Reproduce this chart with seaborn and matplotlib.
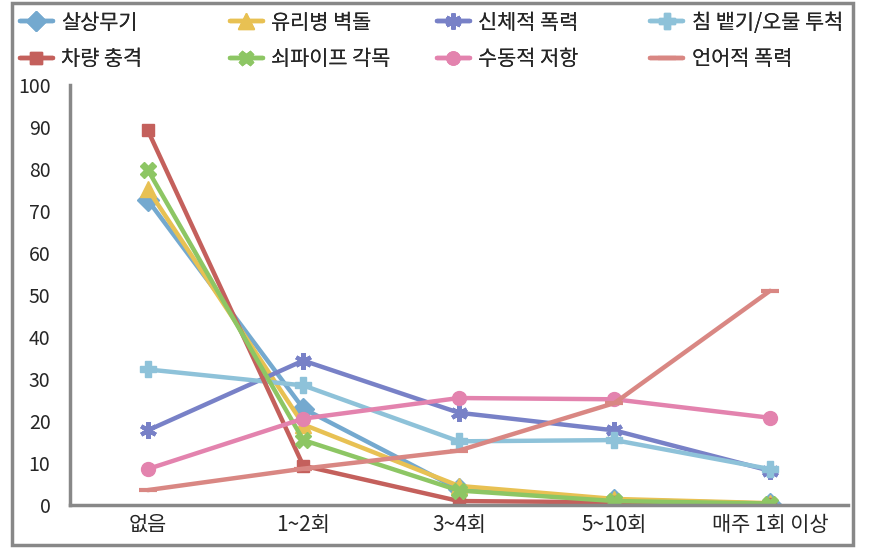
import pandas as pd
import seaborn as sns
import matplotlib.pyplot as plt
from matplotlib.patches import Rectangle

# 데이터
categories = ['없음', '1~2회', '3~4회', '5~10회', '매주 1회 이상']
series_names = ['살상무기', '유리병 벽돌', '신체적 폭력', '침 뱉기/오물 투척',
                '차량 충격', '쇠파이프 각목', '수동적 저항', '언어적 폭력']
weapon = [72.6, 23.0, 3.8, 1.3, 0.4]
bottle = [75.2, 19.2, 4.6, 1.5, 0.5]
physical = [17.8, 34.4, 22.0, 17.8, 8.2]
spit = [32.3, 28.5, 15.2, 15.5, 8.6]
vehicle = [89.2, 9.4, 1.0, 0.7, 0.3]
pipe = [79.8, 15.5, 3.5, 1.0, 0.4]
passive = [8.6, 20.6, 25.5, 25.2, 20.8]
verbal = [3.6, 8.7, 13.0, 24.3, 51.0]
values = [weapon, bottle, physical, spit, vehicle, pipe, passive, verbal]

colors = ['#74A9CF', '#E8C153', '#7881C7', '#8EC2D9',
          '#C4605C', '#8DC664', '#E383AE', '#D98783']
markers = ['D', '^', (6, 2, 0), 'P', 's', 'X', 'o', '_']
msizes = [11, 12, 12, 12, 9, 11, 10, 13]

rows = []
for name, vals in zip(series_names, values):
    for i, (c, v) in enumerate(zip(categories, vals)):
        rows.append({'cat': c, 'x': i, 'series': name, 'value': v})
df = pd.DataFrame(rows)

sns.set_style('white')
plt.rcParams['font.family'] = ['Noto Sans CJK KR', 'DejaVu Sans']

fig = plt.figure(figsize=(8.85, 5.54), dpi=100)
ax = fig.add_axes([0.079, 0.088, 0.879, 0.759])

palette = dict(zip(series_names, colors))
sns.lineplot(data=df, x='x', y='value', hue='series', palette=palette,
             hue_order=series_names, linewidth=3.2, legend=False, ax=ax)

handles = []
for line, name, m, ms, col in zip(ax.get_lines(), series_names, markers, msizes, colors):
    line.set_marker(m)
    line.set_markersize(ms)
    line.set_markerfacecolor(col)
    line.set_markeredgecolor(col)
    line.set_markeredgewidth(3 if m in [(6, 2, 0), '_'] else 1)
    handles.append(line)

ax.set_xlim(-0.5, 4.5)
ax.set_ylim(0, 100)
ax.set_yticks(range(0, 101, 10))
ax.set_xticks(range(5))
ax.set_xticklabels(categories)
ax.set_xticks([i - 0.5 for i in range(6)], minor=True)
ax.tick_params(axis='x', which='major', length=0, labelsize=15, pad=6)
ax.tick_params(axis='x', which='minor', direction='in', length=10, width=2, color='#888888')
ax.tick_params(axis='y', direction='inout', length=6, width=2, color='#888888', labelsize=14, pad=11)
ax.set_xlabel('')
ax.set_ylabel('')
for s in ['top', 'right']:
    ax.spines[s].set_visible(False)
for s in ['left', 'bottom']:
    ax.spines[s].set_color('#888888')
    ax.spines[s].set_linewidth(2.5)

# 범례: 열마다 따로 배치
col_x = [0.0035, 0.2405, 0.4745, 0.7155]
for j, x0 in enumerate(col_x):
    idx = [j, j + 4]
    leg = fig.legend([handles[i] for i in idx], [series_names[i] for i in idx],
                     loc='upper left', bbox_to_anchor=(x0, 1.009),
                     frameon=False, fontsize=15, handlelength=1.6,
                     labelspacing=0.7, handletextpad=0.4, markerscale=0.95,
                     borderpad=0.3)
    fig.add_artist(leg)

fig.patches.append(Rectangle((0.013, 0.016), 0.951, 0.978, transform=fig.transFigure,
                             fill=False, edgecolor='#888888', linewidth=2.5))

plt.savefig('out.png', dpi=100)
